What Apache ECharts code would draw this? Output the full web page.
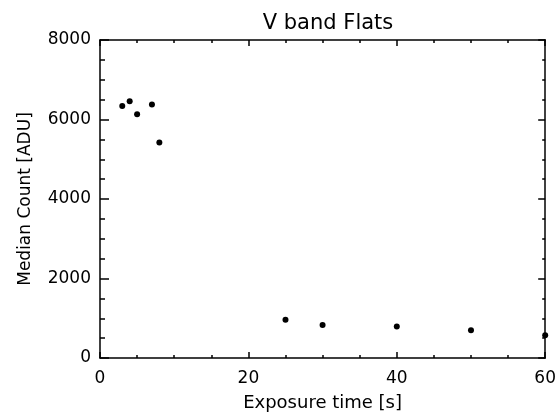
<!DOCTYPE html>
<html lang="en">
<head>
    <meta charset="UTF-8">
    <title>V band Flats</title>
    <style>
        html, body { margin: 0; padding: 0; background: #fff; }
        #container { width: 559px; height: 417px; }
    </style>
</head>
<body>
<div id="container"></div>
<script src="https://cdn.jsdelivr.net/npm/echarts@6/dist/echarts.min.js"></script>
<script>
    // exposure times [s] and median counts [ADU]
    var exposure = [3, 4, 5, 7, 8, 25, 30, 40, 50, 60];
    var median = [6340, 6460, 6130, 6380, 5420, 960, 830, 790, 700, 570];
    var xTicks = [0, 20, 40, 60];
    var yTicks = [0, 2000, 4000, 6000, 8000];

    var points = [];
    for (var i = 0; i < exposure.length; i++) {
        points.push([exposure[i], median[i]]);
    }

    var font = 'DejaVu Sans';
    var lineStyle = { color: '#000', width: 1.5 };

    function xAxisOpt(pos, labels) {
        return {
            type: 'value', position: pos,
            min: xTicks[0], max: xTicks[xTicks.length - 1], interval: 20,
            axisLine: { show: true, onZero: false, lineStyle: lineStyle },
            axisTick: { show: true, inside: true, length: 6, lineStyle: lineStyle },
            minorTick: { show: true, splitNumber: 4, length: 3, lineStyle: { color: '#000', width: 1.5 } },
            splitLine: { show: false },
            axisLabel: {
                show: labels, color: '#000', fontFamily: font, fontSize: 17, margin: 12,
                formatter: function (v) { return String(v); }
            },
            name: labels ? 'Exposure time [s]' : '',
            nameLocation: 'middle', nameGap: 36,
            nameTextStyle: { color: '#000', fontFamily: font, fontSize: 18 }
        };
    }

    function yAxisOpt(pos, labels) {
        return {
            type: 'value', position: pos,
            min: yTicks[0], max: yTicks[yTicks.length - 1], interval: 2000,
            axisLine: { show: true, onZero: false, lineStyle: lineStyle },
            axisTick: { show: true, inside: true, length: labels ? 9 : 7, lineStyle: lineStyle },
            minorTick: { show: true, splitNumber: 4, length: labels ? 5 : 3, lineStyle: { color: '#000', width: 1.5 } },
            splitLine: { show: false },
            axisLabel: {
                show: labels, color: '#000', fontFamily: font, fontSize: 17, margin: 9,
                formatter: function (v) { return String(v); }
            },
            name: labels ? 'Median Count [ADU]' : '',
            nameLocation: 'middle', nameGap: 66,
            nameTextStyle: { color: '#000', fontFamily: font, fontSize: 17 }
        };
    }

    var myChart = echarts.init(document.getElementById('container'), null, { renderer: 'canvas' });
    var option = {
        backgroundColor: '#fff',
        animation: false,
        title: {
            text: 'V band Flats',
            left: 323, top: 8, textAlign: 'center',
            textStyle: { color: '#000', fontFamily: font, fontSize: 21, fontWeight: 'normal' }
        },
        grid: { left: 100, right: 12, top: 40, bottom: 57 },
        xAxis: [xAxisOpt('bottom', true), xAxisOpt('top', false)],
        yAxis: [yAxisOpt('left', true), yAxisOpt('right', false)],
        series: [{
            type: 'scatter',
            xAxisIndex: 0, yAxisIndex: 0,
            symbol: 'circle', symbolSize: 6,
            itemStyle: { color: '#000', opacity: 1 },
            data: points
        }]
    };
    myChart.setOption(option);
</script>
</body>
</html>
